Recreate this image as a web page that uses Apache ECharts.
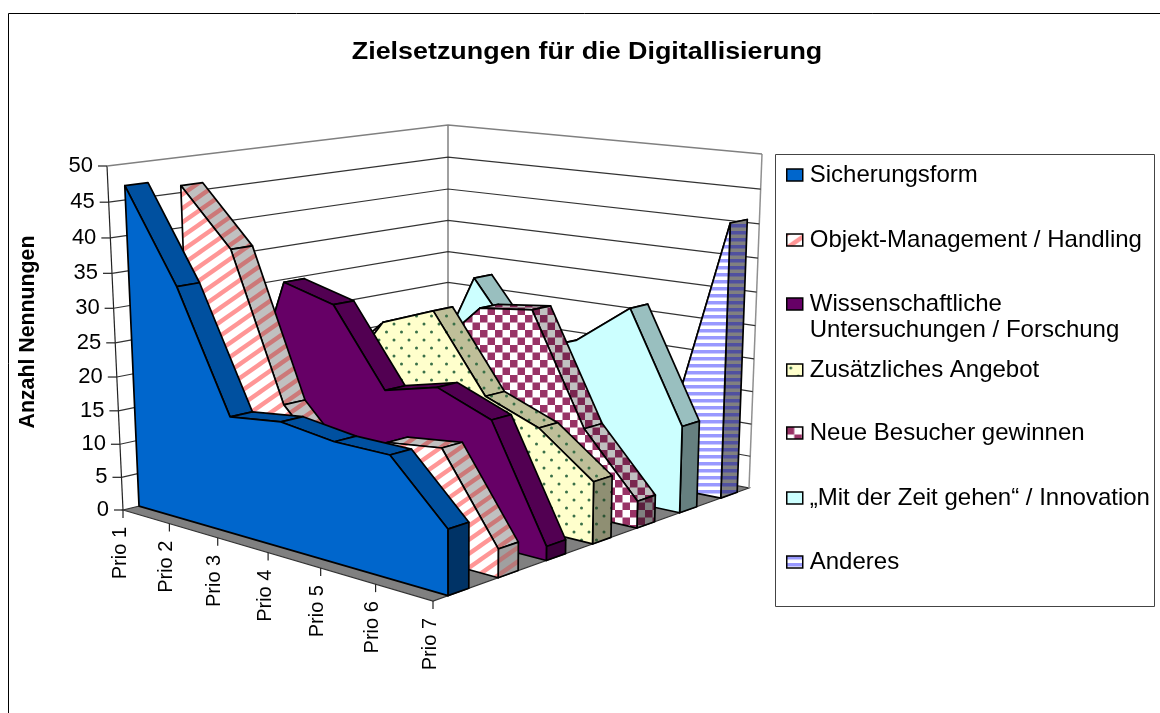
<!DOCTYPE html>
<html>
<head>
<meta charset="utf-8">
<style>html,body{margin:0;padding:0;background:#fff;}#c{width:1160px;height:713px;}</style>
<script src="https://cdn.jsdelivr.net/npm/echarts@6/dist/echarts.min.js"></script>
</head>
<body>
<div id="c"></div>
<script>
// ---- data ----
const categories = ['Prio 1','Prio 2','Prio 3','Prio 4','Prio 5','Prio 6','Prio 7'];
const yTicks = [0,5,10,15,20,25,30,35,40,45,50];
const sicherungsform = [47,34,17,18,17,17,9];
const objektManagement = [46,38,17,9,15,16,4];
const wissenschaftlich = [9,32,30,19,21,18,2];
const zusaetzlich = [10,15,26,29,18,15,9];
const neueBesucher = [15,23,20,28,29,13,4];
const mitDerZeit = [5,12,30,20,23,29,13];
const anderes = [5,6,8,10,8,9,41];
const seriesNames = [
  'Sicherungsform','Objekt-Management / Handling','Wissenschaftliche\nUntersuchungen / Forschung',
  'Zusätzliches Angebot','Neue Besucher gewinnen','„Mit der Zeit gehen“ / Innovation','Anderes'];
const seriesValues = [sicherungsform,objektManagement,wissenschaftlich,zusaetzlich,neueBesucher,mitDerZeit,anderes];
const chartTitle = 'Zielsetzungen für die Digitallisierung';
const yAxisName = 'Anzahl Nennungen';

// ---- fill patterns ----
function tile(w,h,draw){const c=document.createElement('canvas');c.width=w;c.height=h;draw(c.getContext('2d'),w,h);return {image:c,repeat:'repeat'};}
function stripes(bg,fg){return tile(20,14,(g,w,h)=>{g.fillStyle=bg;g.fillRect(0,0,w,h);g.strokeStyle=fg;g.lineWidth=4.4;
  [-14,0,14].forEach(o=>{g.beginPath();g.moveTo(-2,h+o+1.4);g.lineTo(w+2,o-1.4);g.stroke();});});}
function checker(bg,fg){return tile(15,15,(g,w,h)=>{g.fillStyle=bg;g.fillRect(0,0,w,h);g.fillStyle=fg;g.fillRect(0,0,7.5,7.5);g.fillRect(7.5,7.5,7.5,7.5);});}
function dots(bg,fg){return tile(15,16,(g,w,h)=>{g.fillStyle=bg;g.fillRect(0,0,w,h);g.fillStyle=fg;
  [[4,4],[11.5,12]].forEach(p=>{g.beginPath();g.arc(p[0],p[1],1.5,0,7);g.fill();});});}
function hbands(bg,fg){return tile(4,7,(g,w,h)=>{g.fillStyle=bg;g.fillRect(0,0,w,h);g.fillStyle=fg;g.fillRect(0,0,4,3.5);});}

const fills = [
  {front:'#0066CC',top:'#00509F',end:'#003366'},
  {front:stripes('#ffffff','#FF9696'),top:stripes('#C0C0C0','#CC7878'),end:stripes('#A0A0A0','#B87878')},
  {front:'#660066',top:'#520052',end:'#3D003D'},
  {front:dots('#FFFFCC','#3A7048'),top:dots('#BFBF99','#3A7048'),end:dots('#8F8F73','#2C5434')},
  {front:checker('#ffffff','#993366'),top:checker('#C0C0C0','#7A2650'),end:checker('#808080','#5C1F3D')},
  {front:'#CCFFFF',top:'#99BFBF',end:'#668080'},
  {front:hbands('#ffffff','#9999FF'),top:hbands('#808080','#50509F'),end:hbands('#808080','#50509F')}
];

// ---- projection of the 3D box onto the page ----
const G = {left:100,top:100,width:600,height:300};
const A=[123,510],B=[433,601],C=[749,488],D=[448,431];
const At=[107,166],Bt=[432,211],Ct=[762,154],Dt=[448,125];
const lerp=(p,q,s)=>[p[0]+(q[0]-p[0])*s,p[1]+(q[1]-p[1])*s];
const persp=(s,a)=>a*s/(a*s+1-s);
function project(u,v,t){
  const fu=persp(u,0.88), bu=persp(u,0.93), sv=persp(v,1.2-0.05*u), ft=t/(t+(1-t)*1.058);
  const bottom=lerp(lerp(A,B,fu),lerp(D,C,bu),sv);
  const top=lerp(lerp(At,Bt,fu),lerp(Dt,Ct,bu),sv);
  return lerp(bottom,top,ft);
}
const toUT=(pt)=>[(pt[0]-G.left)/G.width,(G.top+G.height-pt[1])/G.height];
const poly=(points,style)=>({type:'polygon',shape:{points},style});

function areaSeries(idx){
  const vals=seriesValues[idx], f=fills[idx];
  const v0=(idx+0.29)/7, v1=(idx+0.7)/7;
  return {
    type:'custom',name:seriesNames[idx],z:20-idx,coordinateSystem:'cartesian2d',
    clip:false,silent:true,encode:{x:0,y:1},
    itemStyle:{color:typeof f.front==='string'?f.front:'#999'},
    data:vals.map((v,i)=>[i,v]),
    renderItem(params,api){
      if(params.dataIndex!==0) return null;
      const ut=vals.map((_,j)=>toUT(api.coord([j,api.value(1,j)])));
      const line={stroke:'#000',lineWidth:1.7,lineJoin:'round'};
      const children=[];
      for(let j=0;j<ut.length-1;j++){
        children.push(poly([project(ut[j][0],v0,ut[j][1]),project(ut[j+1][0],v0,ut[j+1][1]),
          project(ut[j+1][0],v1,ut[j+1][1]),project(ut[j][0],v1,ut[j][1])],{fill:f.top,...line}));
      }
      const last=ut[ut.length-1];
      children.push(poly([project(1,v0,0),project(1,v1,0),project(1,v1,last[1]),project(1,v0,last[1])],{fill:f.end,...line}));
      const front=ut.map(p=>project(p[0],v0,p[1]));
      front.push(project(1,v0,0),project(0,v0,0));
      children.push(poly(front,{fill:f.front,...line}));
      return {type:'group',children};
    }
  };
}

const wallSeries={
  type:'custom',z:1,silent:true,clip:false,encode:{x:0,y:1},
  data:yTicks.map(t=>[0,t]),
  renderItem(params,api){
    const t=toUT(api.coord([0,api.value(1)]))[1];
    const a=project(0,0,t),b=project(0,1,t),c=project(1,1,t);
    const isTop=t>0.999, isBase=t<0.001;
    const col=isTop?'#808080':'#333';
    const children=[];
    if(!isBase) children.push({type:'polyline',shape:{points:[a,b,c]},style:{fill:null,stroke:col,lineWidth:isTop?1.5:1.2}});
    children.push({type:'line',shape:{x1:a[0]-9,y1:a[1],x2:a[0],y2:a[1]},style:{stroke:'#222',lineWidth:1.2}});
    children.push({type:'text',x:a[0]-14,y:a[1],style:{text:String(api.value(1)),align:'right',verticalAlign:'middle',
      font:'22px "Liberation Sans"',fill:'#000'}});
    return {type:'group',children};
  }
};

const frameSeries={
  type:'custom',z:0,silent:true,clip:false,encode:{x:0,y:1},
  data:[[0,0]],
  renderItem(){
    const a=project(0,0,0),b=project(1,0,0),c=project(1,1,0),d=project(0,1,0);
    const at=project(0,0,1),dt=project(0,1,1),ct=project(1,1,1);
    return {type:'group',children:[
      poly([a,b,c,d],{fill:'#808080',stroke:'#333',lineWidth:1.2}),
      {type:'line',shape:{x1:dt[0],y1:dt[1],x2:d[0],y2:d[1]},style:{stroke:'#808080',lineWidth:1.5}},
      {type:'line',shape:{x1:ct[0],y1:ct[1],x2:c[0],y2:c[1]},style:{stroke:'#909090',lineWidth:1.5}},
      {type:'line',shape:{x1:at[0],y1:at[1],x2:a[0],y2:a[1]},style:{stroke:'#222',lineWidth:1.2}}
    ]};
  }
};

const catSeries={
  type:'custom',z:2,silent:true,clip:false,encode:{x:0,y:1},
  data:categories.map((c,i)=>[i,0]),
  renderItem(params,api){
    const u=toUT(api.coord([api.value(0),0]))[0];
    const p=project(u,0,0);
    return {type:'group',children:[
      {type:'line',shape:{x1:p[0],y1:p[1],x2:p[0],y2:p[1]+8},style:{stroke:'#222',lineWidth:1.2}},
      {type:'text',x:p[0]-3,y:p[1]+17,rotation:Math.PI/2,style:{text:categories[params.dataIndex],align:'right',verticalAlign:'middle',
        font:'20px "Liberation Sans"',fill:'#000'}}
    ]};
  }
};

const legendY=[175,240,304,370,433,498,562];
const legends=seriesNames.map((name,i)=>{
  const two=name.indexOf('\n')>=0;
  return {
    show:true,data:[{name,itemStyle:{color:fills[i].front,borderColor:'#000',borderWidth:1.5}}],
    left:786,top:legendY[i]-(two?39:13),padding:0,orient:'vertical',
    itemWidth:16,itemHeight:12,itemGap:0,selectedMode:false,icon:'rect',
    formatter:two?(n=>'\u00a0\n'+n):undefined,
    textStyle:{fontFamily:'"Liberation Sans"',fontSize:24,color:'#000',lineHeight:26,padding:[0,0,0,2]}
  };
});

const chart=echarts.init(document.getElementById('c'),null,{renderer:'canvas'});
chart.setOption({
  animation:false,backgroundColor:'#fff',
  grid:G,
  xAxis:{type:'category',data:categories,boundaryGap:false,show:false},
  yAxis:{type:'value',min:0,max:50,interval:5,show:false},
  legend:legends,
  graphic:[
    {type:'rect',z:-1,shape:{x:8.5,y:13.5,width:1200,height:800},style:{fill:null,stroke:'#000',lineWidth:1}},
    {type:'rect',z:-1,shape:{x:775.5,y:154.5,width:379,height:452},style:{fill:'#fff',stroke:'#444',lineWidth:1}},
    {type:'text',x:587,y:52,scaleX:1.12,z:5,style:{text:chartTitle,align:'center',verticalAlign:'middle',
      font:'bold 24px "Liberation Sans"',fill:'#000'}},
    {type:'text',x:28,y:332,rotation:Math.PI/2,z:5,style:{text:yAxisName,align:'center',verticalAlign:'middle',
      font:'bold 21.3px "Liberation Sans"',fill:'#000'}}
  ],
  series:[frameSeries,wallSeries,catSeries].concat(seriesValues.map((_,i)=>areaSeries(i)))
});
</script>
</body>
</html>
